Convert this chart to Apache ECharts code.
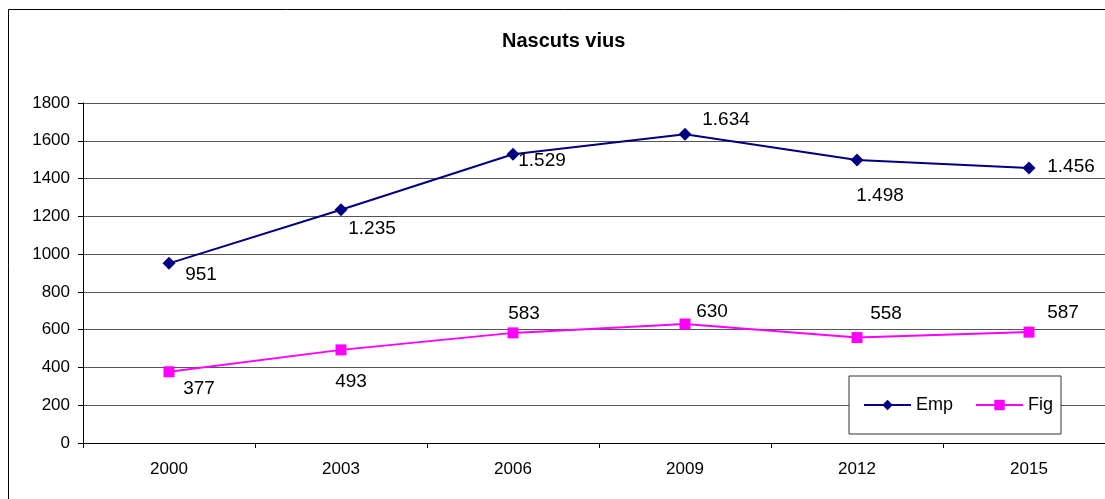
<!DOCTYPE html>
<html>
<head>
<meta charset="utf-8">
<script src="https://cdn.jsdelivr.net/npm/echarts@6/dist/echarts.min.js"></script>
<style>
html, body { margin: 0; padding: 0; overflow: hidden; background: #fff; }
#chart { width: 1120px; height: 520px; }
</style>
</head>
<body>
<div id="chart"></div>
<script>
var years = ['2000', '2003', '2006', '2009', '2012', '2015'];
var emp = [951, 1235, 1529, 1634, 1498, 1456];
var fig = [377, 493, 583, 630, 558, 587];
var yTicks = { min: 0, max: 1800, step: 200 };

// where each value label sits relative to its marker
var empLabelOffsets = [[32, 11], [31, 19], [29, 7], [41, -15], [23, 36], [42, -1]];
var figLabelOffsets = [[30, 17], [10, 32], [11, -19], [27, -12], [29, -24], [34, -19]];

function fmt(v) {
    return String(v).replace(/\B(?=(\d{3})+(?!\d))/g, '.');
}

function withLabels(values, offsets) {
    return values.map(function (v, i) {
        return { value: v, label: { offset: offsets[i] } };
    });
}

var font = 'Liberation Sans, Arial, sans-serif';

var chart = echarts.init(document.getElementById('chart'));
chart.setOption({
    animation: false,
    title: {
        text: 'Nascuts vius',
        left: 497,
        top: 26,
        textStyle: { fontFamily: font, fontSize: 20, fontWeight: 'bold', color: '#000' }
    },
    grid: { left: 83, right: 5, top: 103, bottom: 77 },
    legend: {
        left: 849,
        top: 376,
        orient: 'horizontal',
        backgroundColor: '#fff',
        borderColor: '#333',
        borderWidth: 1,
        borderRadius: 0,
        padding: [20, 8, 20, 14],
        itemWidth: 47,
        itemHeight: 13,
        itemGap: 22,
        textStyle: { fontFamily: font, fontSize: 18, color: '#000' },
        data: ['Emp', 'Fig']
    },
    graphic: [{
        type: 'rect',
        shape: { x: 8.5, y: 9.5, width: 1200, height: 600 },
        style: { fill: 'none', stroke: '#000', lineWidth: 1 },
        silent: true,
        z: -10
    }],
    xAxis: {
        type: 'category',
        data: years,
        boundaryGap: true,
        axisLine: { lineStyle: { color: '#000', width: 1 } },
        axisTick: { show: true, interval: 0, length: 5, lineStyle: { color: '#000' } },
        axisLabel: { fontFamily: font, fontSize: 17, color: '#000', margin: 18 }
    },
    yAxis: {
        type: 'value',
        min: yTicks.min,
        max: yTicks.max,
        interval: yTicks.step,
        axisLine: { show: true, lineStyle: { color: '#000', width: 1 } },
        axisTick: { show: true, length: 5, lineStyle: { color: '#000' } },
        axisLabel: {
            fontFamily: font, fontSize: 17, color: '#000', margin: 13,
            formatter: function (v) { return String(v); }
        },
        splitLine: { lineStyle: { color: '#555', width: 1 } }
    },
    series: [
        {
            name: 'Emp',
            type: 'line',
            data: withLabels(emp, empLabelOffsets),
            symbol: 'diamond',
            symbolSize: 13,
            itemStyle: { color: '#000080' },
            lineStyle: { color: '#000080', width: 2 },
            label: {
                show: true,
                position: 'inside',
                fontFamily: font,
                fontSize: 19,
                color: '#000',
                formatter: function (p) { return fmt(p.value); }
            }
        },
        {
            name: 'Fig',
            type: 'line',
            data: withLabels(fig, figLabelOffsets),
            symbol: 'rect',
            symbolSize: 11,
            itemStyle: { color: '#ff00ff' },
            lineStyle: { color: '#ff00ff', width: 2 },
            label: {
                show: true,
                position: 'inside',
                fontFamily: font,
                fontSize: 19,
                color: '#000',
                formatter: function (p) { return fmt(p.value); }
            }
        }
    ]
});
</script>
</body>
</html>
